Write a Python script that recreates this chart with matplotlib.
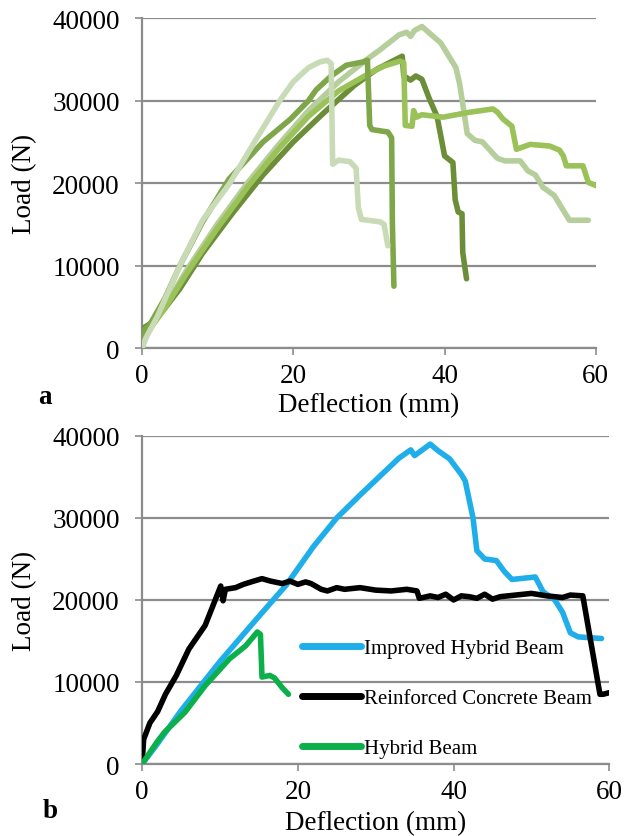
import numpy as np
import matplotlib
matplotlib.use('Agg')
import matplotlib.pyplot as plt

plt.rcParams['font.family'] = ['Liberation Serif', 'DejaVu Serif']

# ---- panel a : five green test curves (deflection mm, load N) ----
a_x = [0, 0.5, 2, 5, 8, 11.6, 15, 18.2, 20, 22, 23.5, 24.5, 25.0, 25.2, 26, 27.5, 28.3, 28.6, 29, 31.5, 32, 32.5]
a_y = [0, 1200, 3800, 10000, 15500, 20000, 25200, 30000, 32300, 34000, 34700, 34900, 34500, 22300, 22800, 22600, 21800, 17000, 15600, 15300, 15000, 12400]

b_x = [0, 0.4, 1, 3, 5, 8, 11.5, 14, 16, 19.6, 22, 23, 25, 27, 29.2, 29.8, 30.1, 30.4, 32.5, 33.0, 33.1, 33.3]
b_y = [0, 2300, 2800, 6000, 10000, 15300, 20500, 23000, 25000, 27750, 30000, 31300, 33000, 34300, 34700, 34900, 27000, 26500, 26200, 25500, 15000, 7500]

c_x = [0, 0.4, 3, 6, 10, 14, 18, 22, 26, 30, 32, 34.1, 34.6, 34.8, 35.7, 35.9, 36.3, 37, 39.8, 43.3, 46.4, 47.0, 47.7, 48.9, 49.5, 51.3, 53.9, 55.2, 55.7, 56.1, 58.3, 59, 60]
c_y = [0, 1500, 4800, 9200, 14600, 19600, 24100, 28100, 31200, 33300, 34200, 34800, 34600, 27000, 26900, 28800, 28000, 28300, 28000, 28600, 29000, 28600, 27800, 26900, 24100, 24700, 24500, 24000, 23300, 22100, 22100, 20100, 19700]

d_x = [0, 0.3, 1.5, 3, 5, 8, 12, 16, 20, 24, 28, 31, 34.4, 34.6, 35.5, 36.2, 37, 38, 39, 39.4, 40, 41.1, 41.4, 41.8, 42.3, 42.4, 42.9]
d_y = [0, 2500, 3200, 4800, 7200, 11500, 16400, 21000, 25000, 28500, 31800, 33800, 35400, 33000, 32500, 33000, 32600, 30200, 28100, 26200, 23300, 22500, 18000, 16500, 16300, 11600, 8400]

e_x = [0, 0.4, 3, 6, 10, 14, 18, 22, 26, 30, 31.5, 34, 35, 35.5, 36, 37, 38, 39.5, 40.5, 41.5, 42, 42.5, 43, 44, 45, 46, 47,
       48, 50, 51, 52, 53, 54.5, 55.5, 56.5, 59]
e_y = [0, 1500, 5000, 9600, 15100, 20100, 24600, 28800, 32300, 35200, 36200, 38000, 38300, 37800, 38500, 39000, 38200, 37000, 35500, 34000,
       32000, 29000, 26000, 25200, 25000, 24000, 23000, 22700, 22700, 21500, 21000, 19500, 18500, 17000, 15500, 15500]

# ---- panel b : three beam types ----
labels_b = ['Improved Hybrid Beam', 'Reinforced Concrete Beam', 'Hybrid Beam']

imp_x = [0, 2, 5, 10, 15, 18.5, 22, 25, 28, 31, 33, 34.5, 35, 36, 37, 38, 39.5, 41, 41.5, 42.5, 43, 44, 45.5, 46.5, 47.5,
         50.5, 51.5, 53, 54, 55, 56, 59]
imp_y = [0, 2500, 6500, 12500, 18000, 21800, 26500, 30000, 32800, 35500, 37300, 38300, 37600, 38300, 39000, 38200, 37200,
         35300, 34500, 30000, 26000, 25000, 24800, 23500, 22500, 22800, 21000, 20000, 18500, 16000, 15500, 15300]

rc_x = [0, 0.2, 1, 2, 3, 4.4, 6, 8.1, 10.1, 10.4, 10.7, 12, 13, 14, 15.4, 16.5, 18, 19, 20, 21, 21.7, 23, 23.8, 25, 26, 28,
        30, 32, 34, 35.3, 35.6, 37, 38, 39, 40, 41, 42, 43, 44, 45, 46, 48, 50, 52, 54, 55, 56.6, 58.8, 59.2, 60]
rc_y = [0, 3000, 5000, 6400, 8500, 10800, 14000, 16900, 21700, 19900, 21300, 21500, 21900, 22200, 22600, 22300, 22000, 22300,
        21900, 22200, 22000, 21300, 21100, 21500, 21300, 21500, 21200, 21100, 21300, 21100, 20200, 20500, 20300, 20700, 20000,
        20500, 20400, 20200, 20700, 20100, 20400, 20600, 20800, 20500, 20300, 20600, 20500, 8500, 8500, 8700]

hyb_x = [0, 2, 2.9, 5.5, 8.1, 11.2, 13.3, 14.8, 15.2, 15.4, 16.4, 17, 18, 18.8]
hyb_y = [0, 2800, 3900, 6300, 9550, 12800, 14400, 16100, 15800, 10600, 10800, 10500, 9300, 8500]

a_colors = ['#c8dbb6', '#7fa74a', '#9bc258', '#6c8e39', '#b5ce9b']
b_colors = ['#1faeea', '#000000', '#0cb04b']

grid_c = '#8c8c8c'
fs = 19.5


def style(ax, xmax, ylab_x):
    ax.set_xlim(0, xmax)
    ax.set_ylim(0, 40000)
    ax.set_xticks([0, 20, 40, 60])
    ax.set_yticks([0, 10000, 20000, 30000, 40000])
    ax.grid(axis='y', color=grid_c, lw=1.6, zorder=0)
    ax.set_axisbelow(True)
    for s in ['top', 'right']:
        ax.spines[s].set_visible(False)
    for s in ['left', 'bottom']:
        ax.spines[s].set_color(grid_c)
        ax.spines[s].set_linewidth(1.6)
    ax.tick_params(axis='y', length=5, width=1.2, color=grid_c, pad=11, labelsize=fs)
    ax.tick_params(axis='x', length=5, width=1.2, color=grid_c, pad=6, labelsize=fs)
    ax.set_ylabel('Load (N)', fontsize=fs)
    ax.yaxis.set_label_coords(ylab_x, 0.5)


fig = plt.figure(figsize=(6.4, 8.37), dpi=100)

ax1 = fig.add_axes([0.222, 0.583, 0.709, 0.394])
style(ax1, 60, -0.232)
ax1.plot(e_x, e_y, color=a_colors[4], lw=4, solid_joinstyle='round', solid_capstyle='round', zorder=2)
ax1.plot(d_x, d_y, color=a_colors[3], lw=4, solid_joinstyle='round', solid_capstyle='round', zorder=3)
ax1.plot(c_x, c_y, color=a_colors[2], lw=4, solid_joinstyle='round', solid_capstyle='round', zorder=4)
ax1.plot(b_x, b_y, color=a_colors[1], lw=4, solid_joinstyle='round', solid_capstyle='round', zorder=5)
ax1.plot(a_x, a_y, color=a_colors[0], lw=4, solid_joinstyle='round', solid_capstyle='round', zorder=6)
ax1.set_xlabel('Deflection (mm)', fontsize=fs)
ax1.xaxis.set_label_coords(0.5, -0.135)
fig.text(0.06, 0.525, 'a', fontsize=fs, fontweight='bold', ha='left', va='center')

ax2 = fig.add_axes([0.222, 0.086, 0.730, 0.392])
style(ax2, 60, -0.225)
ax2.plot(imp_x, imp_y, color=b_colors[0], lw=4, solid_joinstyle='round', solid_capstyle='round', label=labels_b[0], zorder=2)
ax2.plot(rc_x, rc_y, color=b_colors[1], lw=4, solid_joinstyle='round', solid_capstyle='round', label=labels_b[1], zorder=3)
ax2.plot(hyb_x, hyb_y, color=b_colors[2], lw=4, solid_joinstyle='round', solid_capstyle='round', label=labels_b[2], zorder=4)
ax2.set_xlabel('Deflection (mm)', fontsize=fs)
ax2.xaxis.set_label_coords(0.5, -0.14)
fig.text(0.067, 0.031, 'b', fontsize=fs, fontweight='bold', ha='left', va='center')

leg = ax2.legend(loc='center left', bbox_to_anchor=(0.325, 0.2), frameon=False, fontsize=15,
                 handlelength=2.8, labelspacing=1.45, handletextpad=0.15, borderaxespad=0)
for h in leg.get_lines():
    h.set_linewidth(5)

fig.savefig('out.png', dpi=100)
